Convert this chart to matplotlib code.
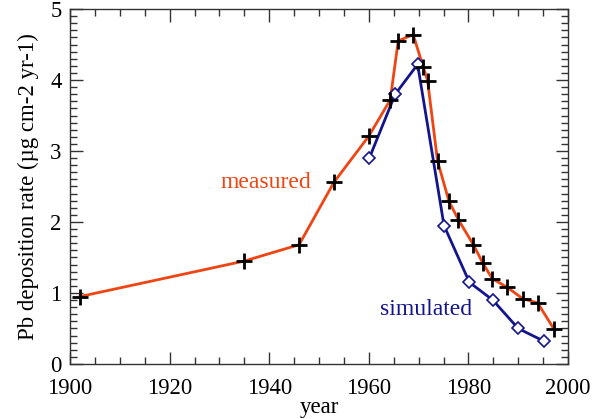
import matplotlib
matplotlib.use("Agg")
import matplotlib.pyplot as plt
from matplotlib.ticker import MultipleLocator

plt.rcParams['font.family'] = ['Liberation Serif', 'DejaVu Serif']

measured_year = [1902, 1935, 1946, 1953, 1960, 1964.3, 1965.9, 1968.9, 1970.9, 1971.8,
                 1973.8, 1976.1, 1978, 1981, 1982.9, 1984.8, 1987.8, 1990.9, 1993.9, 1997.2]
measured_val = [0.95, 1.45, 1.68, 2.56, 3.21, 3.72, 4.55, 4.64, 4.19, 3.99,
                2.86, 2.29, 2.03, 1.68, 1.42, 1.20, 1.08, 0.92, 0.86, 0.49]
simulated_year = [1960.1, 1965.3, 1969.8, 1975.1, 1980.2, 1984.9, 1990.0, 1995.2]
simulated_val = [2.90, 3.80, 4.22, 1.95, 1.15, 0.90, 0.50, 0.32]

red = '#ee4512'
blue = '#14148c'

fig = plt.figure(figsize=(6.0, 4.19), dpi=100)
ax = fig.add_axes([0.1167, 0.1313, 0.83, 0.8472])

ax.plot(measured_year, measured_val, color=red, lw=2.0, zorder=2)
ax.plot(measured_year, measured_val, ls='none', marker='+', ms=12, mew=2.0,
        color='black', zorder=4)
ax.plot(simulated_year, simulated_val, color=blue, lw=2.0, marker='D', ms=6.5,
        mfc='white', mec=blue, mew=1.2, zorder=3)

ax.text(1930.3, 2.48, 'measured', color=red, fontsize=17, ha='left', va='baseline')
ax.text(1962.2, 0.69, 'simulated', color=blue, fontsize=17, ha='left', va='baseline')

ax.set_xlim(1900, 2000)
ax.set_ylim(0, 5)
ax.xaxis.set_major_locator(MultipleLocator(20))
ax.xaxis.set_minor_locator(MultipleLocator(5))
ax.yaxis.set_major_locator(MultipleLocator(1))
ax.yaxis.set_minor_locator(MultipleLocator(0.1))
ax.tick_params(which='both', direction='in', top=True, right=True, color='#333333',
               labelsize=16.3, width=1.0)
ax.tick_params(which='major', length=9)
ax.tick_params(which='minor', length=5)
ax.tick_params(axis='x', which='major', pad=10)
ax.tick_params(axis='y', which='major', pad=6)
for s in ax.spines.values():
    s.set_color('#333333')
    s.set_linewidth(1.0)

ax.set_xlabel('year', fontsize=16.5, labelpad=-1)
ax.set_ylabel('Pb deposition rate (µg cm-2 yr-1)', fontsize=16.5, labelpad=8)

fig.savefig('out.png', dpi=100)
